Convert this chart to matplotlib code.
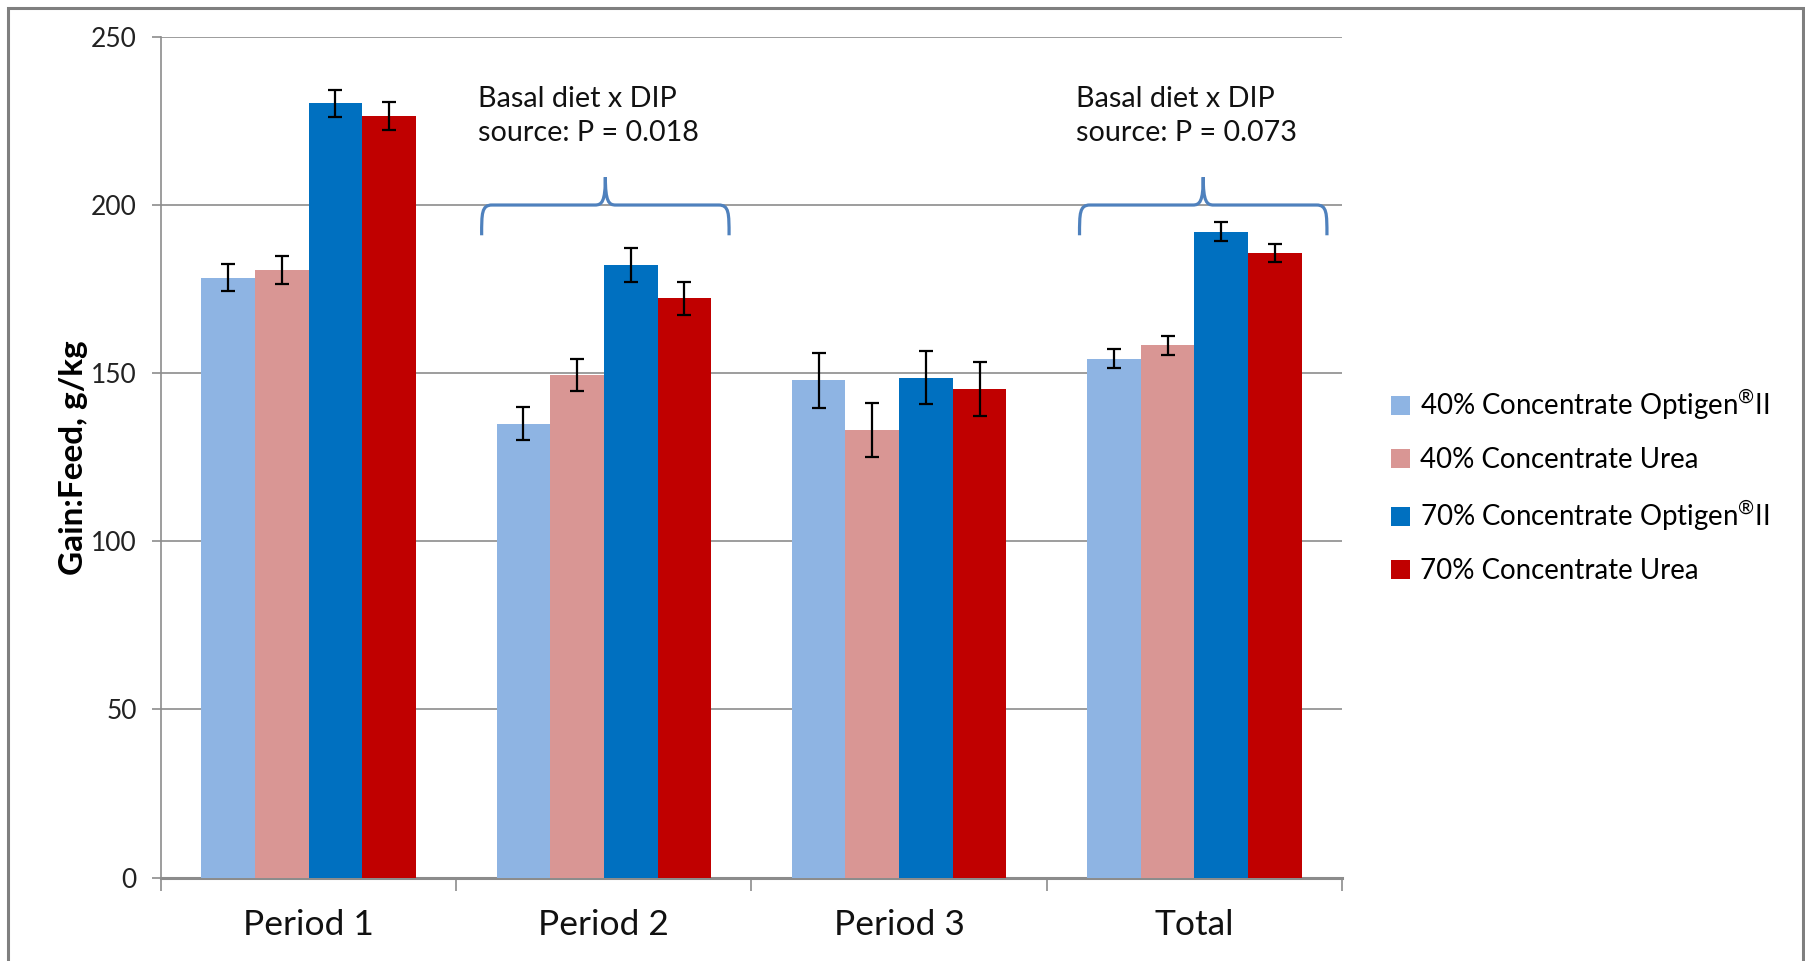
import numpy as np
import matplotlib.pyplot as plt
from matplotlib.path import Path
from matplotlib.patches import PathPatch, Rectangle

plt.rcParams['font.family'] = ['Lato', 'DejaVu Sans']
plt.rcParams['mathtext.fontset'] = 'custom'
plt.rcParams['mathtext.rm'] = 'Lato'
plt.rcParams['mathtext.it'] = 'Lato'

# Gain:Feed (g/kg) by period and treatment
periods = ['Period 1', 'Period 2', 'Period 3', 'Total']
treatments = ['40% Concentrate Optigen$^{\u00ae}$II', '40% Concentrate Urea',
              '70% Concentrate Optigen$^{\u00ae}$II', '70% Concentrate Urea']
colors = ['#8EB4E3', '#D99694', '#0070C0', '#C00000']

opt40 = [178.4, 135.0, 147.9, 154.3]
urea40 = [180.6, 149.4, 133.1, 158.3]
opt70 = [230.2, 182.1, 148.7, 192.1]
urea70 = [226.4, 172.2, 145.2, 185.7]
opt40_se = [4.1, 5.0, 8.2, 2.8]
urea40_se = [4.2, 4.8, 8.1, 2.8]
opt70_se = [4.1, 5.1, 8.0, 2.75]
urea70_se = [4.1, 5.0, 8.0, 2.7]

means = [opt40, urea40, opt70, urea70]
errs = [opt40_se, urea40_se, opt70_se, urea70_se]

# interaction notes: (period index, text)
notes = [(1, 'Basal diet x DIP\nsource: P = 0.018'),
         (3, 'Basal diet x DIP\nsource: P = 0.073')]

fig = plt.figure(figsize=(18.06, 9.61), dpi=100)
ax = fig.add_axes([161/1806, 1 - 877.5/961, 1181/1806, 840.6/961])

x = np.arange(len(periods))
bw = 1 / 5.5
for i in range(4):
    ax.bar(x + (i - 1.5) * bw, means[i], bw, color=colors[i], label=treatments[i],
           zorder=3)
    ax.errorbar(x + (i - 1.5) * bw, means[i], yerr=errs[i], fmt='none',
                ecolor='black', elinewidth=1.6, capsize=4.7, capthick=1.6, zorder=4)

ax.set_xlim(-0.5, 3.5)
ax.set_ylim(0, 250)
ax.set_yticks(range(0, 251, 50))
ax.yaxis.grid(True, color='#8c8c8c', linewidth=1.2, zorder=0)
ax.set_axisbelow(True)

for s in ['top', 'right']:
    ax.spines[s].set_visible(False)
ax.spines['left'].set_color('#8c8c8c')
ax.spines['left'].set_linewidth(1.2)
ax.spines['bottom'].set_color('#8c8c8c')
ax.spines['bottom'].set_linewidth(2.2)

ax.tick_params(axis='y', direction='out', length=6.5, width=1.2, color='#8c8c8c',
               pad=11, labelsize=19, labelcolor='#222222')
ax.set_xticks(np.arange(-0.5, 3.6, 1))
ax.set_xticklabels([])
ax.tick_params(axis='x', which='major', direction='out', length=9, width=1.2,
               color='#8c8c8c')
ax.set_xticks(x, minor=True)
ax.set_xticklabels(periods, minor=True)
ax.tick_params(axis='x', which='minor', length=0, pad=23, labelsize=25.5,
               labelcolor='#111111')

ax.set_ylabel('Gain:Feed, g/kg', fontsize=24, fontweight='bold')
ax.yaxis.set_label_coords(-0.062, 0.5)


def brace(ax, xc, half, y0=191, y1=200, y2=208.3, r=0.035):
    # curly brace opening downward, drawn in data coordinates
    ym = (y0 + y1) / 2
    verts = [
        (xc - half, y0),
        (xc - half, ym + 2), (xc - half, y1), (xc - half + r, y1),
        (xc - r, y1),
        (xc - r / 3, y1), (xc, y1 + 1), (xc, y2),
        (xc, y1 + 1), (xc + r / 3, y1), (xc + r, y1),
        (xc + half - r, y1),
        (xc + half, y1), (xc + half, ym + 2), (xc + half, y0),
    ]
    codes = [Path.MOVETO,
             Path.CURVE4, Path.CURVE4, Path.CURVE4,
             Path.LINETO,
             Path.CURVE4, Path.CURVE4, Path.CURVE4,
             Path.CURVE4, Path.CURVE4, Path.CURVE4,
             Path.LINETO,
             Path.CURVE4, Path.CURVE4, Path.CURVE4]
    ax.add_patch(PathPatch(Path(verts, codes), facecolor='none', edgecolor='#4F81BD',
                           linewidth=2.3, zorder=5, clip_on=False))


for idx, txt in notes:
    xc = idx + (0.005 if idx == 1 else 0.03)
    brace(ax, xc, 0.419)
    ax.text(xc - 0.43, 226.5, txt, fontsize=20.7, color='#111111', ha='left',
            va='center', linespacing=1.38)

leg = fig.legend(loc='center left', bbox_to_anchor=(1380/1806, 1 - 486/961),
                 frameon=False, fontsize=19.9, handlelength=0.7, handleheight=0.7,
                 handletextpad=0.35, labelspacing=0.92, borderaxespad=0)

# outer frame of the chart area
fig.patches.append(Rectangle((8/1806, -0.05), 1795/1806, 1.05 - 8/961, fill=False,
                             edgecolor='#7f7f7f', linewidth=2.2,
                             transform=fig.transFigure))

fig.savefig('out.png', dpi=100)
